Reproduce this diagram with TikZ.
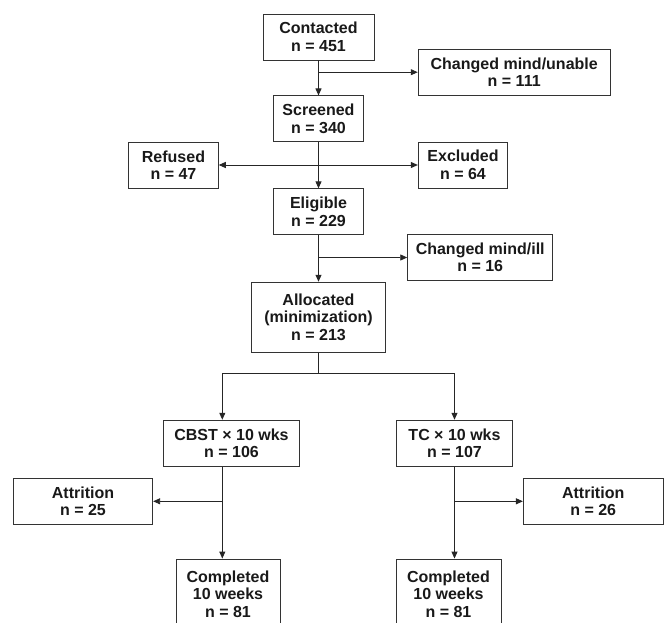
\documentclass[tikz,border=0pt]{standalone}
\usepackage{fontspec}
\setmainfont{Liberation Sans}
\usetikzlibrary{arrows.meta, positioning}

\begin{document}
\begin{tikzpicture}[
		x=1pt, y=-1pt,
		every node/.style={font=\bfseries\fontsize{16}{17.5}\selectfont, text=black!90},
		box/.style={
			rectangle,
			draw=black!80,
			line width=0.9pt,
			align=center,
			inner sep=0pt,
			minimum height=46pt
		},
		arrow/.style={
			->,
			draw=black!85,
			line width=0.9pt,
			>={Triangle[length=7pt,width=6pt]}
		}
		]
		\useasboundingbox (0,0) rectangle (664,623);
		
		% Nodes (main column)
		\node[box, minimum width=111pt] (contacted) at (318.5,37) {Contacted\\ n = 451};
		\node[box, minimum width=90pt, below=35pt of contacted] (screened) {Screened\\ n = 340};
		\node[box, minimum width=90pt, below=46pt of screened] (eligible) {Eligible\\ n = 229};
		\node[box, minimum width=134pt, minimum height=70pt, below=46.5pt of eligible] (allocated) {Allocated\\ (minimization)\\ n = 213};
		
		% Nodes (side boxes)
		\node[box, minimum width=192pt] (unable) at (514.2,72.2) {Changed mind/unable\\ n = 111};
		\node[box, minimum width=89.6pt] (refused) at (173.5,165) {Refused\\ n = 47};
		\node[box, minimum width=89.4pt] (excluded) at (463,165) {Excluded\\ n = 64};
		\node[box, minimum width=145pt] (ill) at (480.2,257.5) {Changed mind/ill\\ n = 16};
		
		% Nodes (arms)
		\node[box, minimum width=135.6pt] (cbst) at (231.5,443.2) {CBST × 10 wks\\ n = 106};
		\node[box, minimum width=116.4pt] (tc) at (454.5,443.2) {TC × 10 wks\\ n = 107};
		\node[box, minimum width=139.4pt] (attrL) at (83,501.3) {Attrition\\ n = 25};
		\node[box, minimum width=139.7pt] (attrR) at (593.2,501.3) {Attrition\\ n = 26};
		\node[box, minimum width=104pt, minimum height=70pt] (doneL) at (228,594) {Completed\\ 10 weeks\\ n = 81};
		\node[box, minimum width=105pt, minimum height=70pt] (doneR) at (448.5,594) {Completed\\ 10 weeks\\ n = 81};
		
		\coordinate (splitL) at (222.3,373.3);
		\coordinate (splitR) at (454.5,373.3);
		
		% Arrows (main flow)
		\draw[arrow] (contacted) -- (screened);
		\draw[arrow] (contacted.south |- unable.west) -- (unable.west);
		\draw[arrow] (screened) -- (eligible);
		\draw[arrow, <->] (refused.east) -- (excluded.west);
		\draw[arrow] (eligible) -- (allocated);
		\draw[arrow] (eligible.south |- ill.west) -- (ill.west);
		
		% Split into the two arms
		\draw[arrow] (allocated.south) |- (splitL) -- (splitL |- cbst.north);
		\draw[arrow] (allocated.south) |- (splitR) -- (splitR |- tc.north);
		
		% Arms
		\draw[arrow] (splitL |- cbst.south) -- (splitL |- doneL.north);
		\draw[arrow] (splitL |- attrL.east) -- (attrL.east);
		\draw[arrow] (tc.south) -- (tc.south |- doneR.north);
		\draw[arrow] (tc.south |- attrR.west) -- (attrR.west);
	\end{tikzpicture}
\end{document}
